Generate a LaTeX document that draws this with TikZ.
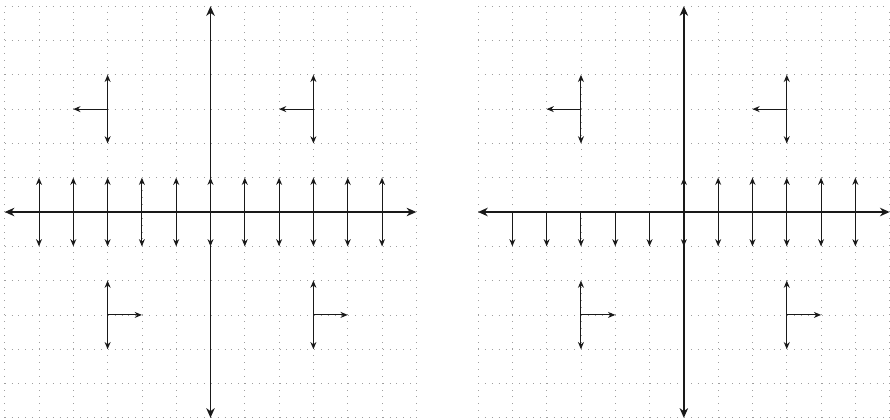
\documentclass[tikz,border=0pt]{standalone}
\usetikzlibrary{arrows.meta}
\tikzset{
  gridline/.style={gray!75, line width=0.6pt, dash pattern=on 0.6pt off 5.1pt},
  axisline/.style={black!90, line width=1.6pt, {Stealth[length=8pt,width=7pt,inset=2.5pt]}-{Stealth[length=8pt,width=7pt,inset=2.5pt]}},
  vec/.style={black!90, line width=0.8pt, -{Stealth[length=6pt,width=5pt,inset=2pt]}},
  dvec/.style={black!90, line width=0.8pt, {Stealth[length=6pt,width=5pt,inset=2pt]}-{Stealth[length=6pt,width=5pt,inset=2pt]}}
}
\begin{document}
\begin{tikzpicture}
\useasboundingbox (-6.137,-6.035) rectangle (19.81,6.181);
% ---------- left panel ----------
\begin{scope}
  \draw[gridline] (-6,-6) grid (6,6);
  \foreach \x in {-5,...,5} \draw[dvec] (\x,-1) -- (\x,1);
  \foreach \x in {-3,3} {
    \draw[dvec] (\x,2) -- (\x,4);
    \draw[vec] (\x,3) -- (\x-1,3);
    \draw[dvec] (\x,-4) -- (\x,-2);
    \draw[vec] (\x,-3) -- (\x+1,-3);
  }
  \draw[axisline] (-6,0) -- (6,0);
  \draw[axisline] (0,-6) -- (0,6);
\end{scope}
% ---------- right panel ----------
\begin{scope}[xshift=13.80cm]
  \draw[gridline] (-6,-6) grid (6,6);
  \foreach \x in {-5,...,-1} \draw[vec] (\x,0) -- (\x,-1);
  \foreach \x in {0,...,5} \draw[dvec] (\x,-1) -- (\x,1);
  \foreach \x in {-3,3} {
    \draw[dvec] (\x,2) -- (\x,4);
    \draw[vec] (\x,3) -- (\x-1,3);
    \draw[dvec] (\x,-4) -- (\x,-2);
    \draw[vec] (\x,-3) -- (\x+1,-3);
  }
  \draw[axisline] (-6,0) -- (6,0);
  \draw[axisline] (0,-6) -- (0,6);
\end{scope}
\end{tikzpicture}
\end{document}
